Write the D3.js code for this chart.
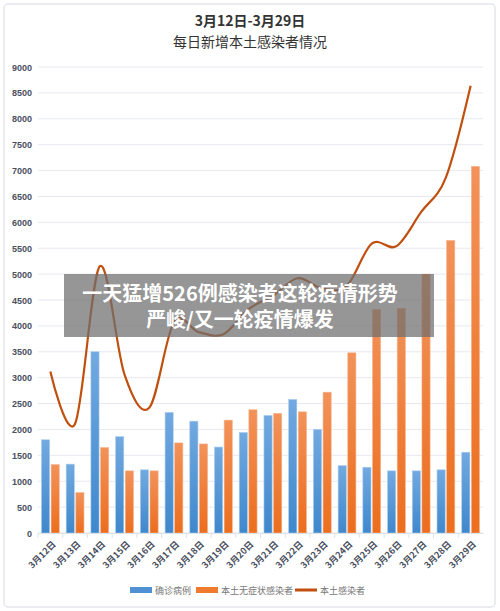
<!DOCTYPE html><html><head><meta charset="utf-8"><script src="https://cdn.jsdelivr.net/npm/d3@7"></script>
<style>body{margin:0;background:#fff;font-family:"Noto Sans CJK SC","Noto Sans",sans-serif}</style></head><body><svg id="c" width="500" height="611"></svg><script>
const categories=["3月12日","3月13日","3月14日","3月15日","3月16日","3月17日","3月18日","3月19日","3月20日","3月21日","3月22日","3月23日","3月24日","3月25日","3月26日","3月27日","3月28日","3月29日"];
const confirmed=[1800,1330,3500,1860,1220,2330,2160,1660,1940,2270,2580,2000,1300,1270,1200,1200,1220,1560];
const asymptomatic=[1320,780,1650,1200,1200,1740,1720,2180,2380,2310,2340,2720,3480,4320,4340,5000,5650,7080];
const localTotal=[3120,2110,5150,3060,2420,4070,3880,3840,4320,4580,4920,4720,4780,5590,5540,6200,6870,8640];
const yTicks=[0,500,1000,1500,2000,2500,3000,3500,4000,4500,5000,5500,6000,6500,7000,7500,8000,8500,9000];
const svg=d3.select("#c");
svg.append("rect").attr("x",4).attr("y",4).attr("width",491).attr("height",603).attr("rx",4).attr("fill","#fff").attr("stroke","#e3e6ec").attr("stroke-width",1.5);
const defs=svg.append("defs");
const g1=defs.append("linearGradient").attr("id","gb").attr("x1",0).attr("x2",0).attr("y1",0).attr("y2",1);
g1.append("stop").attr("offset",0).attr("stop-color","#72a9e0");g1.append("stop").attr("offset",1).attr("stop-color","#3f88cc");
const g2=defs.append("linearGradient").attr("id","go").attr("x1",0).attr("x2",0).attr("y1",0).attr("y2",1);
g2.append("stop").attr("offset",0).attr("stop-color","#f2925a");g2.append("stop").attr("offset",1).attr("stop-color","#ec6e1e");
const x=d3.scaleBand().domain(categories).range([38,483]).paddingInner(0).paddingOuter(0);
const y=d3.scaleLinear().domain([0,9000]).range([533,67]);
svg.append("g").selectAll("line").data(yTicks).join("line").attr("x1",38).attr("x2",483).attr("y1",d=>y(d)).attr("y2",d=>y(d)).attr("stroke","#e6e9f0").attr("stroke-width",1);
svg.append("g").selectAll("text").data(yTicks).join("text").attr("x",32).attr("y",d=>y(d)+3.5).attr("text-anchor","end").attr("font-size",9).attr("font-weight","bold").attr("fill","#4a5060").attr("font-family","Liberation Sans, sans-serif").text(d=>d);
const bw=x.bandwidth()*0.33, gap=x.bandwidth()*0.06;
svg.append("g").selectAll("rect").data(confirmed).join("rect").attr("x",(d,i)=>x(categories[i])+x.bandwidth()/2-gap/2-bw).attr("width",bw).attr("y",d=>y(d)).attr("height",d=>533-y(d)).attr("fill","url(#gb)").attr("stroke","#a9ccee").attr("stroke-width",0.6);
svg.append("g").selectAll("rect").data(asymptomatic).join("rect").attr("x",(d,i)=>x(categories[i])+x.bandwidth()/2+gap/2).attr("width",bw).attr("y",d=>y(d)).attr("height",d=>533-y(d)).attr("fill","url(#go)").attr("stroke","#f6b48c").attr("stroke-width",0.6);
const ax=svg.append("g").attr("transform","translate(0,533)").call(d3.axisBottom(x).tickSize(5).tickSizeOuter(0).tickFormat(""));
ax.select(".domain").attr("stroke","#dde1e8");ax.selectAll(".tick line").attr("stroke","#dde1e8").attr("transform",`translate(${-x.bandwidth()/2},0)`);
svg.append("g").selectAll("text").data(categories).join("text").attr("transform",d=>`translate(${x(d)+x.bandwidth()/2+6},${545}) rotate(-45)`).attr("text-anchor","end").attr("font-size",9).attr("font-weight","bold").attr("fill","#4a5060").text(d=>d);
const line=d3.line().x((d,i)=>x(categories[i])+x.bandwidth()/2).y(d=>y(d)).curve(d3.curveCardinal.tension(0));
svg.append("path").datum(localTotal).attr("d",line).attr("fill","none").attr("stroke","#c0500f").attr("stroke-width",2.2);
svg.append("text").attr("x",250).attr("y",26).attr("text-anchor","middle").attr("font-size",14).attr("font-weight","bold").attr("fill","#333").text("3月12日-3月29日");
svg.append("text").attr("x",250).attr("y",47).attr("text-anchor","middle").attr("font-size",14).attr("fill","#333").text("每日新增本土感染者情况");
const leg=[["确诊病例","#4f91d3","rect"],["本土无症状感染者","#ef7a30","rect"],["本土感染者","#c0500f","line"]];
const lx=[130,196,295];
leg.forEach((l,i)=>{const gg=svg.append("g").attr("transform",`translate(${lx[i]},590)`);
 if(l[2]=="rect")gg.append("rect").attr("x",0).attr("y",-3).attr("width",22).attr("height",6).attr("fill",l[1]);else gg.append("rect").attr("x",0).attr("y",-1.5).attr("width",22).attr("height",3).attr("fill",l[1]);
 gg.append("text").attr("x",25).attr("y",3.5).attr("font-size",9).attr("fill","#777").text(l[0]);});
svg.append("rect").attr("x",64).attr("y",274).attr("width",370).attr("height",63).attr("fill","rgba(110,110,110,0.72)");
svg.append("text").attr("x",240).attr("y",301).attr("text-anchor","middle").attr("font-size",20).attr("font-weight","bold").attr("fill","#fff").text("一天猛增526例感染者这轮疫情形势");
svg.append("text").attr("x",240).attr("y",327).attr("text-anchor","middle").attr("font-size",20).attr("font-weight","bold").attr("fill","#fff").text("严峻/又一轮疫情爆发");
</script></body></html>
